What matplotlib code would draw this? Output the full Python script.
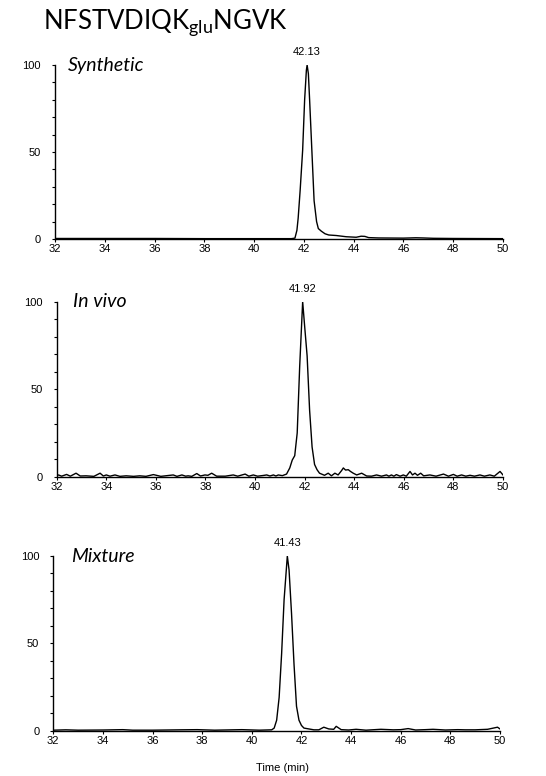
import numpy as np
import matplotlib
matplotlib.use('Agg')
import matplotlib.pyplot as plt
from matplotlib.ticker import MultipleLocator

plt.rcParams.update({
    'font.family': ['Liberation Sans', 'DejaVu Sans'],
    'font.size': 8,
    'axes.linewidth': 1.0,
    'lines.linewidth': 1.0,
})

TITLE = 'NFSTVDIQK'
TITLE_SUB = 'glu'
TITLE_END = 'NGVK'
X_LABEL = 'Time (min)'
X_TICKS = [32, 34, 36, 38, 40, 42, 44, 46, 48, 50]
Y_TICKS = [0, 50, 100]

# Synthetic standard trace (relative abundance, %)
syn_time = [32.0, 34.0, 36.0, 38.0, 40.0, 41.5, 41.64, 41.72, 41.77, 41.85,
            41.95, 42.03, 42.1, 42.13, 42.18, 42.23, 42.32, 42.41, 42.51, 42.58,
            42.7, 42.85, 43.0, 43.3, 43.7, 44.1, 44.3, 44.45, 44.6, 45.0,
            46.0, 46.5, 46.8, 47.2, 48.0, 50.0]
syn_signal = [0.3, 0.3, 0.3, 0.2, 0.2, 0.2, 0.5, 5, 12, 28,
              51, 80, 97, 100, 95, 80, 51, 22, 10, 6,
              4.5, 3, 2.3, 2.0, 1.3, 1.0, 1.6, 1.5, 0.8, 0.6,
              0.5, 0.7, 0.6, 0.4, 0.3, 0.2]

# In vivo trace
vivo_time = [32.0, 32.07, 32.2, 32.4, 32.55, 32.78, 32.95, 33.18, 33.5, 33.75,
             33.88, 34.0, 34.15, 34.35, 34.55, 34.8, 35.1, 35.35, 35.6, 35.9,
             36.2, 36.7, 36.85, 37.05, 37.2, 37.3, 37.45, 37.65, 37.8, 37.98,
             38.1, 38.25, 38.45, 38.8, 39.12, 39.3, 39.6, 39.75, 39.93, 40.1,
             40.33, 40.47, 40.6, 40.74, 40.84, 40.94, 41.1, 41.27, 41.4, 41.5,
             41.6, 41.7, 41.8, 41.92, 42.0, 42.1, 42.2, 42.3, 42.4, 42.5,
             42.6, 42.8, 42.95, 43.08, 43.22, 43.35, 43.49, 43.56, 43.65, 43.76,
             43.85, 43.96, 44.1, 44.3, 44.5, 44.7, 44.9, 45.1, 45.3, 45.4,
             45.5, 45.6, 45.7, 45.85, 45.98, 46.1, 46.25, 46.35, 46.45, 46.55,
             46.68, 46.8, 47.05, 47.3, 47.6, 47.8, 48.0, 48.15, 48.33, 48.5,
             48.67, 48.85, 49.07, 49.25, 49.47, 49.65, 49.88, 50.0]
vivo_signal = [0.5, 1.0, 0.3, 1.3, 0.3, 2.0, 0.4, 0.5, 0.2, 2.0,
               0.4, 1.0, 0.3, 1.0, 0.2, 0.5, 0.2, 0.5, 0.2, 1.2,
               0.2, 1.0, 0.2, 1.0, 0.3, 0.5, 0.2, 1.8, 0.4, 1.0,
               0.8, 2.0, 0.3, 0.3, 1.0, 0.3, 1.5, 0.3, 1.0, 0.3,
               0.7, 1.0, 0.4, 1.0, 0.4, 1.0, 0.6, 1.5, 5, 9.5,
               12, 25, 63, 100, 86, 69, 38, 17, 7, 4,
               2, 0.8, 2.0, 0.5, 2.0, 1.0, 3.5, 5.0, 3.8, 4.0,
               3.0, 2.0, 1.0, 2.0, 0.4, 0.3, 1.0, 0.3, 1.0, 0.3,
               1.0, 0.3, 1.2, 0.3, 1.0, 0.3, 3.0, 1.0, 2.0, 0.8,
               2.0, 0.5, 1.0, 0.3, 1.5, 0.3, 1.3, 0.3, 1.0, 0.3,
               0.8, 0.3, 1.0, 0.3, 1.0, 0.3, 3.0, 1.0]

# Mixture trace
mix_time = [32.0, 32.5, 33.0, 34.0, 34.8, 35.2, 36.0, 37.1, 37.8, 38.5,
            39.6, 40.3, 40.8, 40.9, 41.0, 41.1, 41.2, 41.3, 41.43, 41.5,
            41.6, 41.7, 41.8, 41.9, 42.0, 42.1, 42.3, 42.5, 42.7, 42.9,
            43.1, 43.3, 43.4, 43.6, 43.9, 44.2, 44.6, 45.2, 45.7, 46.0,
            46.3, 46.6, 47.0, 47.3, 47.8, 48.3, 48.6, 49.0, 49.5, 49.9,
            50.0]
mix_signal = [0.3, 0.5, 0.3, 0.4, 0.6, 0.3, 0.3, 0.5, 0.6, 0.3,
              0.6, 0.3, 0.5, 1.5, 6, 19, 44, 75, 100, 92,
              67, 38, 14, 6, 3, 1.5, 1.0, 0.5, 0.5, 2.0,
              1.0, 0.8, 2.5, 0.6, 0.4, 0.8, 0.3, 0.8, 0.5, 0.6,
              1.2, 0.4, 0.6, 0.8, 0.4, 0.6, 0.5, 0.5, 0.8, 2.0,
              1.0]

panels = [
    ('Synthetic', '42.13', syn_time, syn_signal),
    ('In vivo', '41.92', vivo_time, vivo_signal),
    ('Mixture', '41.43', mix_time, mix_signal),
]
# axes rectangles in figure pixels: left, right, y of 0 line, y of 100 line
rects = [(55, 503, 239, 65), (56.7, 503, 476.7, 301.7), (53.3, 500, 730.7, 556)]
label_x = [68, 73, 71]

W, H = 546, 776
fig = plt.figure(figsize=(W / 100, H / 100), dpi=100)

for (name, peak, t, s), (l, r, y0, y1), lx in zip(panels, rects, label_x):
    ax = fig.add_axes([l / W, 1 - y0 / H, (r - l) / W, (y0 - y1) / H])
    ax.plot(t, s, color='black', lw=1.0)
    ax.set_xlim(32, 50)
    ax.set_ylim(0, 100)
    ax.spines['top'].set_visible(False)
    ax.spines['right'].set_visible(False)
    ax.set_xticks(X_TICKS)
    ax.set_yticks(Y_TICKS)
    ax.yaxis.set_minor_locator(MultipleLocator(10))
    ax.tick_params(axis='x', length=2.4, width=0.8, pad=1.5, labelsize=8)
    ax.tick_params(axis='y', which='both', length=2.4, width=0.8, pad=7.7, labelsize=8)
    ax.patch.set_alpha(0)
    pk = t[int(np.argmax(s))]
    ax.annotate(peak, xy=(pk, 100), xytext=(0, 5.5), textcoords='offset points',
                ha='center', va='bottom', fontsize=8)
    fig.text(lx / W, 1 - y1 / H, name, family='Lato', style='italic',
             fontsize=14, ha='left', va='center')

fig.text(282 / W, 1 - 768 / H, X_LABEL, ha='center', va='center', fontsize=8)
fig.text(43 / W, 1 - 22 / H,
         TITLE + r'$_{\mathregular{' + TITLE_SUB + '}}$' + TITLE_END,
         family='Lato', fontsize=18.5, ha='left', va='center')

fig.savefig('out.png', dpi=100)
